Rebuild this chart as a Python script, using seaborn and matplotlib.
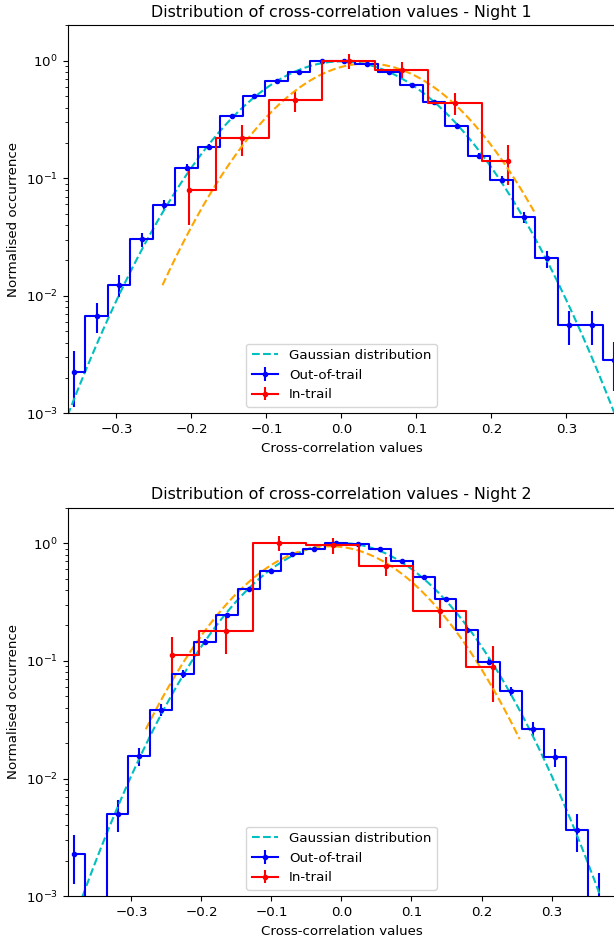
import numpy as np
import matplotlib
matplotlib.use("Agg")
import matplotlib.pyplot as plt
import seaborn as sns

# ---- Night 1 ----
n1_out_centers = [-0.3565, -0.3265, -0.2965, -0.2665, -0.2365, -0.2065, -0.1765, -0.1465, -0.1165,
                  -0.0865, -0.0565, -0.0265, 0.0035, 0.0335, 0.0635, 0.0935, 0.1235, 0.1535,
                  0.1835, 0.2135, 0.2435, 0.2735, 0.3035, 0.3335, 0.3635]
n1_out_counts = [4, 12, 22, 54, 105, 219, 330, 600, 888, 1200, 1440, 1760, 1775, 1670, 1413,
                 1095, 793, 499, 275, 172, 83, 37, 10, 10, 5]
n1_in_centers = [-0.2032, -0.1323, -0.0614, 0.0095, 0.0804, 0.1513, 0.2222]
n1_in_counts = [4, 11, 23, 50, 42, 22, 7]
# gaussian fits: amplitude, mean, sigma, x range
n1_out_fit = (0.99, 0.0, 0.098)
n1_in_fit = (0.95, 0.034, 0.0925)
n1_in_range = (-0.2387, 0.2577)

# ---- Night 2 ----
n2_out_centers = [-0.3824, -0.3512, -0.3199, -0.2887, -0.2575, -0.2262, -0.1950, -0.1638, -0.1325,
                  -0.1013, -0.0701, -0.0388, -0.0076, 0.0236, 0.0549, 0.0861, 0.1173, 0.1486,
                  0.1798, 0.2110, 0.2423, 0.2735, 0.3047, 0.3359, 0.3672]
n2_out_counts = [5, 0, 11, 34, 84, 168, 317, 533, 886, 1260, 1770, 1954, 2183, 2165, 1941,
                 1535, 1122, 729, 400, 215, 120, 58, 33, 8, 2]
n2_in_centers = [-0.2414, -0.1651, -0.0888, -0.0125, 0.0638, 0.1401, 0.2164]
n2_in_counts = [5, 8, 45, 43, 29, 12, 4]
n2_out_fit = (1.0, 0.0, 0.0995)
n2_in_fit = (0.94, -0.016, 0.0985)
n2_in_range = (-0.2795, 0.2545)

nights = [
    ("Night 1", n1_out_centers, n1_out_counts, n1_in_centers, n1_in_counts,
     n1_out_fit, n1_in_fit, n1_in_range, 0.365),
    ("Night 2", n2_out_centers, n2_out_counts, n2_in_centers, n2_in_counts,
     n2_out_fit, n2_in_fit, n2_in_range, 0.391),
]

plt.rcParams['font.size'] = 9.6


def gauss(x, a, mu, sig):
    return a * np.exp(-(x - mu) ** 2 / (2 * sig ** 2))


fig = plt.figure(figsize=(6.14, 9.4), dpi=100)
axes = [fig.add_axes([0.1103, 0.5603, 0.8917, 0.4126]),
        fig.add_axes([0.1103, 0.0465, 0.8917, 0.4134])]

for ax, (name, oc, on, ic, inn, ofit, ifit, irange, xl) in zip(axes, nights):
    on = np.array(on, dtype=float)
    inn = np.array(inn, dtype=float)

    # out-of-trail histogram, poisson errors
    ax.errorbar(oc, on / on.max(), yerr=np.sqrt(on) / on.max(), fmt='.-', color='b',
                lw=1.5, drawstyle='steps-mid', label='Out-of-trail')

    xg = np.linspace(-xl, xl, 400)
    sns.lineplot(x=xg, y=gauss(xg, *ofit), ax=ax, color='c', linestyle='--', lw=1.5,
                 label='Gaussian distribution')

    ax.errorbar(ic, inn / inn.max(), yerr=np.sqrt(inn) / inn.max(), fmt='.-', color='r',
                lw=1.5, drawstyle='steps-mid', label='In-trail')

    xi = np.linspace(irange[0], irange[1], 300)
    sns.lineplot(x=xi, y=gauss(xi, *ifit), ax=ax, color='orange', linestyle='--', lw=1.5)

    ax.set_yscale('log')
    ax.set_ylim(1e-3, 2)
    ax.set_xlim(-xl, xl)
    ax.set_title(f"Distribution of cross-correlation values - {name}", fontsize=11.4)
    ax.set_xlabel("Cross-correlation values")
    ax.set_ylabel("Normalised occurrence")
    ax.legend(loc='lower center')

fig.savefig("out.png", dpi=100)
